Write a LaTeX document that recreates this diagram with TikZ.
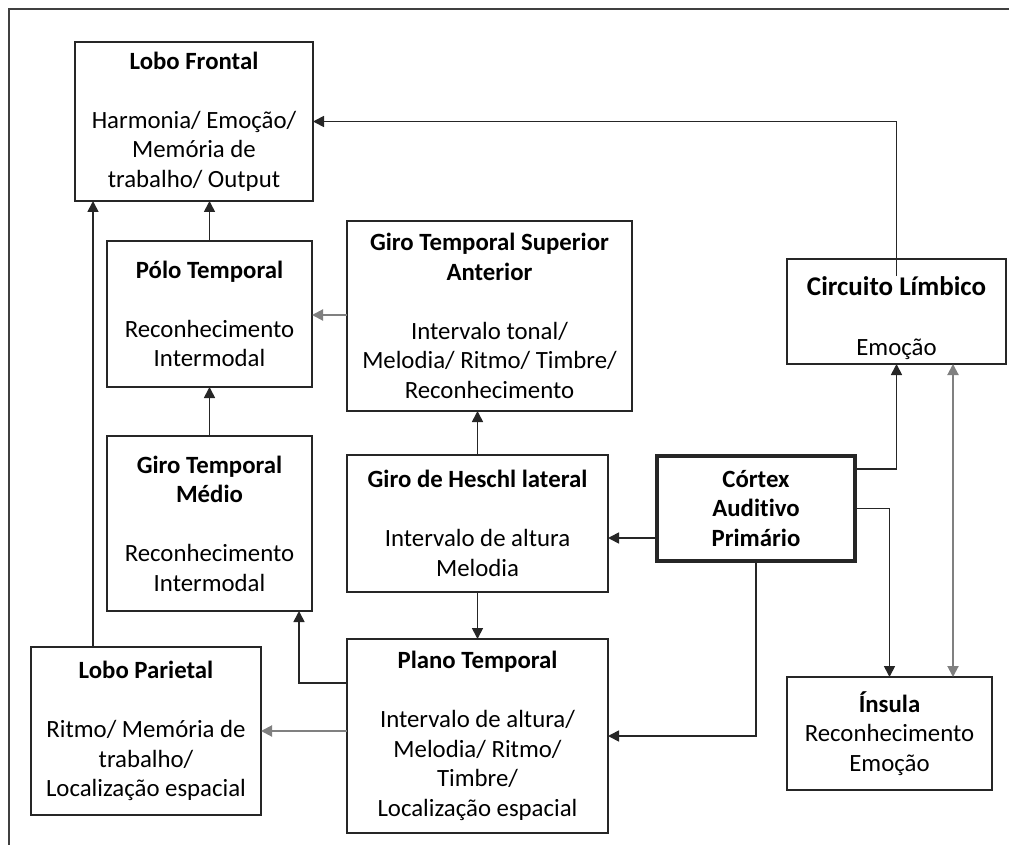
\documentclass[tikz,border=0pt]{standalone}
\usepackage{fontspec}
\setmainfont{Carlito}[Ligatures=NoCommon]
\usetikzlibrary{arrows.meta}
\begin{document}
\begin{tikzpicture}[x=1pt,y=-1pt,
  box/.style={draw=black!85,line width=1.7pt,inner sep=0pt,outer sep=0pt,align=center,
    font=\fontsize{24.8}{29.5}\selectfont},
  thickbox/.style={box,line width=4.6pt},
  arr/.style={draw=black!85,line width=1.7pt,-{Triangle[length=11pt,width=11pt]}},
  garr/.style={draw=black!50,line width=2pt,-{Triangle[length=11pt,width=11pt]}},
  gdbl/.style={draw=black!50,line width=2pt,{Triangle[length=11pt,width=11pt]}-{Triangle[length=11pt,width=11pt]}}]
\useasboundingbox (0,0) rectangle (1009,845);
\draw[line width=1.8pt,black!75] (9,845) -- (9,9) -- (1009,9);

\node[box,minimum width=238,minimum height=159] (lf) at (194,121.5)
  {\textbf{Lobo Frontal}\\~\\Harmonia/ Emoção/\\Memória de\\trabalho/ Output};
\node[box,minimum width=205,minimum height=146] (polo) at (209.5,314)
  {\textbf{Pólo Temporal}\\~\\Reconhecimento\\Intermodal};
\node[box,minimum width=285,minimum height=190] (gtsa) at (489.5,316)
  {\textbf{Giro Temporal Superior}\\\textbf{Anterior}\\~\\Intervalo tonal/\\Melodia/ Ritmo/ Timbre/\\Reconhecimento};
\node[box,minimum width=219,minimum height=105] (limb) at (896.5,311.5)
  {\rule{0pt}{32pt}{\fontsize{27}{31}\selectfont\textbf{Circuito Límbico}}\\[30pt]Emoção};
\node[box,minimum width=205,minimum height=175] (gtm) at (209.5,523.5)
  {\textbf{Giro Temporal}\\\textbf{Médio}\\~\\Reconhecimento\\Intermodal};
\node[box,minimum width=261,minimum height=137] (hes) at (477.5,523.5)
  {\textbf{Giro de Heschl lateral}\\~\\Intervalo de altura\\Melodia};
\node[thickbox,minimum width=198,minimum height=105] (cortex) at (756,508.5)
  {\textbf{Córtex}\\\textbf{Auditivo}\\\textbf{Primário}};
\node[box,minimum width=230,minimum height=168] (par) at (146,731)
  {\textbf{Lobo Parietal}\\~\\Ritmo/ Memória de\\trabalho/\\Localização espacial};
\node[box,minimum width=261,minimum height=194] (plano) at (477.5,736)
  {\textbf{Plano Temporal}\\~\\Intervalo de altura/\\Melodia/ Ritmo/\\Timbre/\\Localização espacial};
\node[box,minimum width=205,minimum height=113] (ins) at (889.5,733.5)
  {\textbf{Ínsula}\\Reconhecimento\\Emoção};

\coordinate (c93) at (93,0);
\coordinate (c299) at (299,0);
\coordinate (c953) at (953,0);

\draw[arr] (par.north -| c93) -- (lf.south -| c93);
\draw[arr] (polo.north) -- (lf.south -| polo.north);
\draw[arr] (gtm.north) -- (polo.south);
\draw[garr] ([yshift=1pt]gtsa.west) -- ([yshift=1pt]gtsa.west -| polo.east);
\draw[arr] (hes.north) -- (hes.north |- gtsa.south);
\draw[arr] (hes.south) -- (plano.north);
\draw[arr] ([yshift=-29.5pt]cortex.west) -- ([yshift=-29.5pt]cortex.west -| hes.east);
\draw[arr] (cortex.south) |- (plano.east);
\draw[arr] ([yshift=39.5pt]cortex.east) -| (limb.south);
\draw[arr] (cortex.east) -| (ins.north);
\draw[gdbl] (limb.south -| c953) -- (ins.north -| c953);
\draw[arr] ([yshift=-17pt]limb.north) |- (lf.east);
\draw[arr] ([yshift=53pt]plano.west) -| (gtm.south -| c299);
\draw[garr] (par.east -| plano.west) -- (par.east);
\end{tikzpicture}
\end{document}
